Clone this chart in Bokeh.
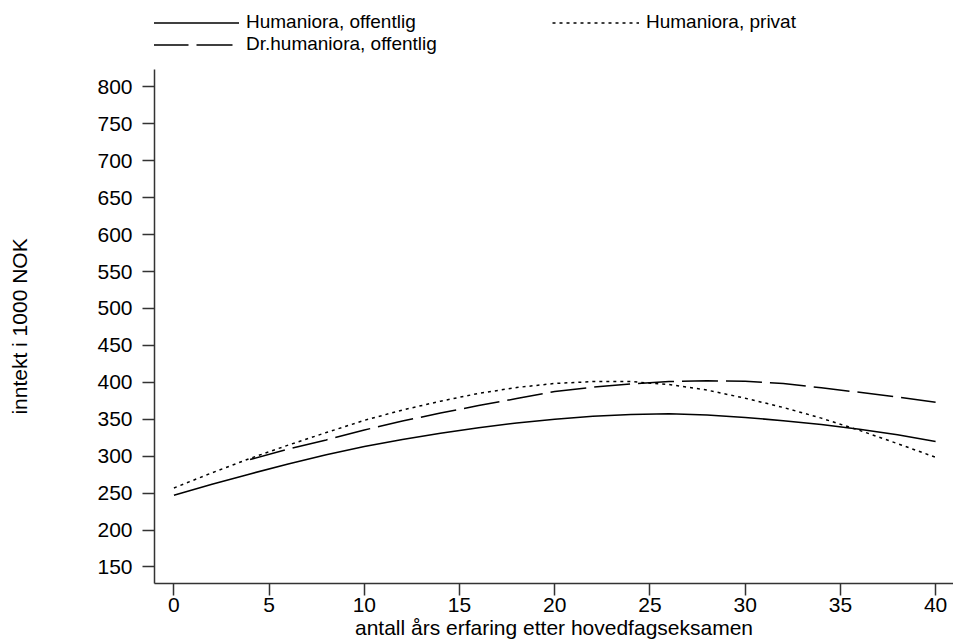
from bokeh.plotting import figure
from bokeh.layouts import column
from bokeh.models import Range1d, FixedTicker, Legend, LegendItem
from bokeh.embed import file_html
from bokeh.resources import INLINE

# ---- data ----
years = [0, 2, 4, 6, 8, 10, 12, 14, 16, 18, 20, 22, 24, 26, 28, 30, 32, 34, 36, 38, 40]
hum_offentlig = [247, 262, 276, 289.5, 302, 313, 322.5, 331, 338.5, 345, 350, 354, 356.5, 357.5,
                 355.8, 352.5, 348, 343, 336.5, 329, 320]
hum_privat = [257, 277.5, 297, 315, 332, 348.5, 362.5, 374.5, 385, 393, 398.5, 401, 401, 397,
              389.5, 378.5, 366, 351.5, 335, 317, 298.5]
years_dr = [4, 6, 8, 10, 12, 14, 16, 18, 20, 22, 24, 26, 28, 30, 32, 34, 36, 38, 40]
dr_offentlig = [295.5, 309.5, 322, 335.5, 347.5, 358.5, 368.5, 378, 387.5, 393.5, 398, 401, 402,
                401.5, 398.5, 392.5, 386.5, 380, 373]

series_labels = ["Humaniora, offentlig", "Humaniora, privat", "Dr.humaniora, offentlig"]
x_ticks = [0, 5, 10, 15, 20, 25, 30, 35, 40]
y_ticks = [150, 200, 250, 300, 350, 400, 450, 500, 550, 600, 650, 700, 750, 800]
x_title = "antall års erfaring etter hovedfagseksamen"
y_title = "inntekt i 1000 NOK"

FONT = "Liberation Sans"
AXIS_COLOR = "#333333"
styles = [dict(line_color="black", line_width=1.5),
          dict(line_color="black", line_width=1.5, line_dash="3 4"),
          dict(line_color="black", line_width=1.5, line_dash="36 8")]

# ---- main chart ----
p = figure(width=953, height=584, output_backend="svg", toolbar_location=None,
           x_range=Range1d(-1.02, 40.94), y_range=Range1d(127.6, 823.6),
           min_border_left=154, min_border_right=0, min_border_top=11, min_border_bottom=59)
p.outline_line_color = None
p.grid.visible = False

p.line(years, hum_offentlig, **styles[0])
p.line(years, hum_privat, **styles[1])
p.line(years_dr, dr_offentlig, **styles[2])

for ax in (p.xaxis[0], p.yaxis[0]):
    ax.axis_line_color = AXIS_COLOR
    ax.axis_line_width = 1.5
    ax.major_tick_line_color = AXIS_COLOR
    ax.major_tick_line_width = 1.5
    ax.major_tick_out = 12
    ax.major_tick_in = 0
    ax.minor_tick_line_color = None
    ax.major_label_text_font = FONT
    ax.major_label_text_font_size = "21px"
    ax.major_label_text_color = "black"
    ax.axis_label_text_font = FONT
    ax.axis_label_text_font_style = "normal"
    ax.axis_label_text_color = "black"
    ax.axis_label_text_font_size = "21px"

p.xaxis.ticker = FixedTicker(ticks=x_ticks)
p.yaxis.ticker = FixedTicker(ticks=y_ticks)
p.xaxis.axis_label = x_title
p.yaxis.axis_label = y_title
p.xaxis.major_label_standoff = 2
p.xaxis.axis_label_standoff = 1
p.yaxis.major_label_standoff = 10
p.yaxis.axis_label_standoff = 63

# ---- legend strip above the chart ----
lg = figure(width=953, height=58, output_backend="svg", toolbar_location=None,
            x_range=Range1d(100, 101), y_range=Range1d(100, 101),
            x_axis_type=None, y_axis_type=None,
            min_border_left=0, min_border_right=0, min_border_top=0, min_border_bottom=0)
lg.outline_line_color = None
lg.grid.visible = False
g1 = lg.line(years, hum_offentlig, **styles[0])
g2 = lg.line(years, hum_privat, **styles[1])
g3 = lg.line(years_dr, dr_offentlig, **styles[2])

legend = Legend(
    items=[LegendItem(label=series_labels[0], renderers=[g1]),
           LegendItem(label=series_labels[2], renderers=[g3]),
           LegendItem(label=series_labels[1], renderers=[g2])],
    location=(-2, 3), ncols=2,
    glyph_width=87, glyph_height=21, label_height=21, label_width=306,
    label_standoff=7, spacing=0, padding=0, margin=0,
    border_line_color=None, background_fill_alpha=0,
    label_text_font=FONT, label_text_font_size="19px", label_text_color="black",
    label_text_line_height=1.0,
)
lg.add_layout(legend)

layout = column(lg, p, spacing=0)
open("out.html", "w").write(file_html(layout, INLINE))
